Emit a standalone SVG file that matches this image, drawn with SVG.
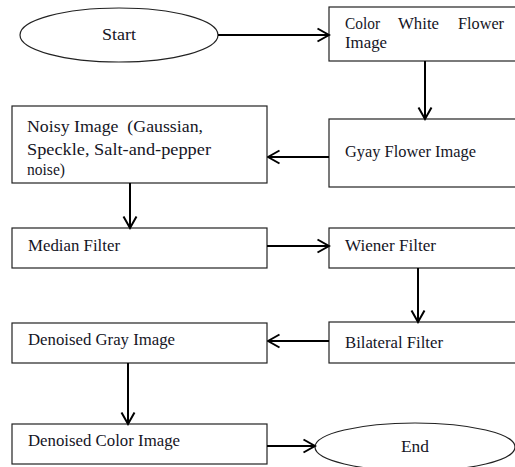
<svg xmlns="http://www.w3.org/2000/svg" width="515" height="467" viewBox="0 0 515 467">
<style>
.box{fill:#fff;stroke:#222;stroke-width:1.2}
.lbl{font-family:"Liberation Serif","DejaVu Serif",serif;font-size:16.5px;fill:#15151f}
.mid{text-anchor:middle}
.con{stroke:#000;stroke-width:2;fill:none;marker-end:url(#ah)}
</style>
<defs>
<marker id="ah" markerUnits="userSpaceOnUse" viewBox="0 0 14 16" refX="12.5" refY="8" markerWidth="14" markerHeight="16" orient="auto">
<path d="M1,1.5 L12.5,8 L1,14.5" fill="none" stroke="#000" stroke-width="2"/>
</marker>
</defs>
<rect width="515" height="467" fill="#fff"/>
<g id="start"><ellipse class="box" cx="119" cy="35" rx="99" ry="27"/><text class="lbl" x="102" y="40" textLength="34" lengthAdjust="spacingAndGlyphs">Start</text></g>
<g id="color"><rect class="box" x="329" y="7" width="200" height="54"/><text class="lbl" x="345" y="29" textLength="35" lengthAdjust="spacingAndGlyphs">Color</text><text class="lbl" x="398" y="29" textLength="41" lengthAdjust="spacingAndGlyphs">White</text><text class="lbl" x="458" y="29" textLength="46" lengthAdjust="spacingAndGlyphs">Flower</text><text class="lbl" x="345" y="48" textLength="42" lengthAdjust="spacingAndGlyphs">Image</text></g>
<g id="gray"><rect class="box" x="329" y="119" width="200" height="68"/><text class="lbl" x="345" y="157" textLength="131" lengthAdjust="spacingAndGlyphs">Gyay Flower Image</text></g>
<g id="noisy"><rect class="box" x="12" y="106" width="255" height="77"/><text class="lbl" x="27" y="132" textLength="176" lengthAdjust="spacingAndGlyphs" xml:space="preserve">Noisy Image  (Gaussian,</text><text class="lbl" x="27" y="155" textLength="184" lengthAdjust="spacingAndGlyphs">Speckle, Salt-and-pepper</text><text class="lbl" x="27" y="175" textLength="38" lengthAdjust="spacingAndGlyphs">noise)</text></g>
<g id="median"><rect class="box" x="12" y="228" width="255" height="40"/><text class="lbl" x="28" y="251" textLength="92" lengthAdjust="spacingAndGlyphs">Median Filter</text></g>
<g id="wiener"><rect class="box" x="329" y="228" width="200" height="40"/><text class="lbl" x="345" y="251" textLength="91" lengthAdjust="spacingAndGlyphs">Wiener Filter</text></g>
<g id="bilateral"><rect class="box" x="329" y="322" width="200" height="41"/><text class="lbl" x="345" y="348" textLength="98" lengthAdjust="spacingAndGlyphs">Bilateral Filter</text></g>
<g id="dgray"><rect class="box" x="12" y="323" width="255" height="40"/><text class="lbl" x="28" y="345" textLength="147" lengthAdjust="spacingAndGlyphs">Denoised Gray Image</text></g>
<g id="dcolor"><rect class="box" x="12" y="424" width="255" height="40"/><text class="lbl" x="28" y="446" textLength="152" lengthAdjust="spacingAndGlyphs">Denoised Color Image</text></g>
<g id="end"><ellipse class="box" cx="415" cy="447" rx="100" ry="24"/><text class="lbl" x="401" y="452" textLength="28" lengthAdjust="spacingAndGlyphs">End</text></g>
<g id="connectors">
<line class="con" x1="218" y1="35" x2="329" y2="35"/>
<line class="con" x1="425" y1="61" x2="425" y2="119"/>
<line class="con" x1="329" y1="157" x2="268" y2="157"/>
<line class="con" x1="130" y1="183" x2="130" y2="228"/>
<line class="con" x1="267" y1="246" x2="329" y2="246"/>
<line class="con" x1="418" y1="268" x2="418" y2="322"/>
<line class="con" x1="329" y1="341" x2="268" y2="341"/>
<line class="con" x1="128" y1="363" x2="128" y2="424"/>
<line class="con" x1="267" y1="446" x2="315" y2="446"/>
</g>
</svg>
